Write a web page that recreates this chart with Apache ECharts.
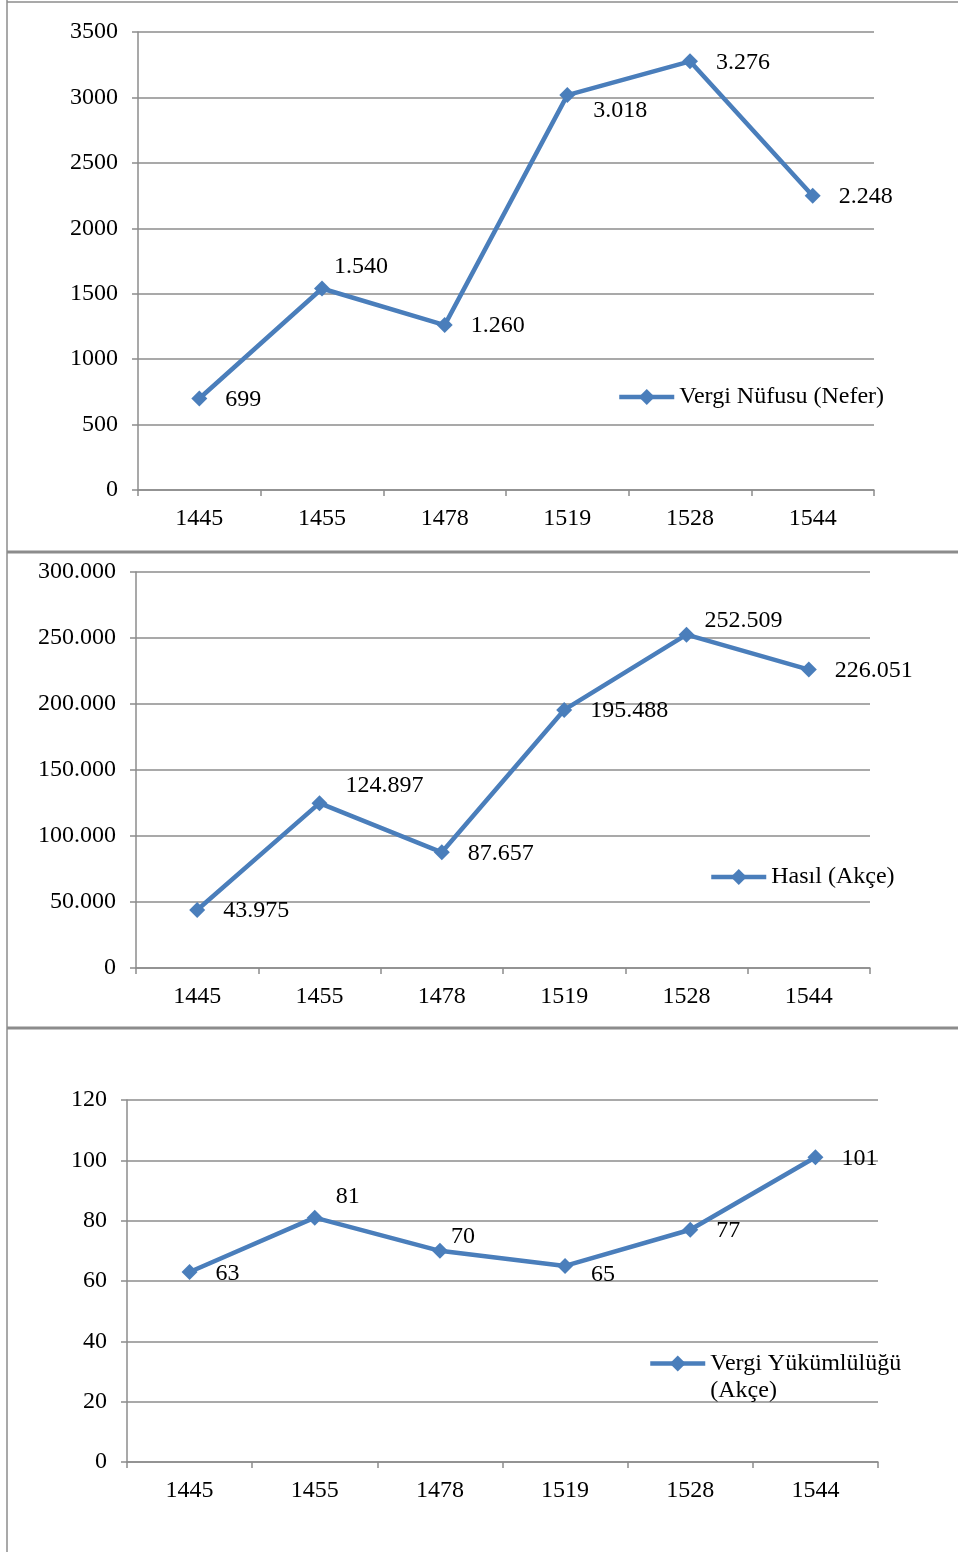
<!DOCTYPE html>
<html><head><meta charset="utf-8">
<script src="https://cdn.jsdelivr.net/npm/echarts@6/dist/echarts.min.js"></script>
<style>html,body{margin:0;padding:0;background:#fff}#c{width:958px;height:1552px}</style>
</head><body><div id="c"></div>
<script>
const years = ['1445','1455','1478','1519','1528','1544'];
const nufus = [699, 1540, 1260, 3018, 3276, 2248];
const hasil = [43975, 124897, 87657, 195488, 252509, 226051];
const yukum = [63, 81, 70, 65, 77, 101];
const names = ['Vergi Nüfusu (Nefer)', 'Hasıl (Akçe)', 'Vergi Yükümlülüğü (Akçe)'];
// label offsets per point (px)
const off1 = [[0,1],[-14,-22],[0,1],[0,16],[0,1],[0,1]];
const off2 = [[0,1],[0,-17],[0,1],[0,1],[-8,-14],[0,1]];
const off3 = [[0,2],[-5,-21],[-15,-14],[0,9],[0,1],[0,1]];

const FONT = 'Liberation Serif';
const FS = 24;
const BLUE = '#4A7EBB';
const GRAY = '#8C8C8C';
const dots = v => String(v).replace(/\B(?=(\d{3})+(?!\d))/g, '.');

function mkData(vals, offs){
  return vals.map((v,i)=>({value:v, label:{offset:offs[i]}}));
}
function yAx(idx, max, interval, fmt){
  return {gridIndex:idx, type:'value', min:0, max:max, interval:interval,
    axisLine:{show:true, lineStyle:{color:GRAY, width:1.5}},
    axisTick:{show:true, length:6, lineStyle:{color:GRAY, width:1.5}},
    splitLine:{show:true, lineStyle:{color:GRAY, width:1.5}},
    axisLabel:{color:'#000', fontFamily:FONT, fontSize:FS, margin:20, formatter:fmt}};
}
function xAx(idx){
  return {gridIndex:idx, type:'category', data:years, boundaryGap:true,
    axisLine:{show:true, lineStyle:{color:GRAY, width:1.5}},
    axisTick:{show:true, length:6, lineStyle:{color:GRAY, width:1.5}},
    axisLabel:{color:'#000', fontFamily:FONT, fontSize:FS, margin:17}};
}
function ser(idx, name, vals, offs){
  return {type:'line', name:name, xAxisIndex:idx, yAxisIndex:idx, data:mkData(vals, offs),
    symbol:'diamond', symbolSize:16, color:BLUE,
    lineStyle:{color:BLUE, width:4.5}, itemStyle:{color:BLUE},
    label:{show:true, position:'right', distance:18, color:'#000', fontFamily:FONT, fontSize:FS,
      formatter:p=>dots(p.value)}, animation:false};
}
const legendText = {color:'#000', fontFamily:FONT, fontSize:FS};
const legBase = {itemWidth:55, itemHeight:20, itemGap:4, padding:0,
  lineStyle:{color:BLUE, width:4.5}, itemStyle:{color:BLUE}};
const option = {
  animation:false,
  grid:[
    {left:138, top:32, right:84, height:458},
    {left:136, top:572, right:88, height:396},
    {left:127, top:1100, right:80, height:362}
  ],
  xAxis:[xAx(0), xAx(1), xAx(2)],
  yAxis:[
    yAx(0, 3500, 500, v=>String(v)),
    yAx(1, 300000, 50000, v=>dots(v)),
    yAx(2, 120, 20, v=>String(v))
  ],
  legend:[
    Object.assign({data:[names[0]], left:617, top:385, textStyle:legendText}, legBase),
    Object.assign({data:[names[1]], left:709, top:865, textStyle:legendText}, legBase),
    Object.assign({data:[names[2]], left:648, top:1323,
      formatter:()=> ' \nVergi Yükümlülüğü\n(Akçe)',
      textStyle:Object.assign({lineHeight:27}, legendText)}, legBase)
  ],
  series:[ser(0,names[0],nufus,off1), ser(1,names[1],hasil,off2), ser(2,names[2],yukum,off3)],
  graphic:[
    {type:'line', shape:{x1:7,y1:2,x2:958,y2:2}, style:{stroke:GRAY, lineWidth:1.5}},
    {type:'line', shape:{x1:7,y1:0,x2:7,y2:1552}, style:{stroke:GRAY, lineWidth:1.5}},
    {type:'line', shape:{x1:7,y1:552,x2:958,y2:552}, style:{stroke:GRAY, lineWidth:3}},
    {type:'line', shape:{x1:7,y1:1028,x2:958,y2:1028}, style:{stroke:GRAY, lineWidth:3}}
  ]
};
const chart = echarts.init(document.getElementById('c'), null, {renderer:'canvas'});
chart.setOption(option);
</script></body></html>
